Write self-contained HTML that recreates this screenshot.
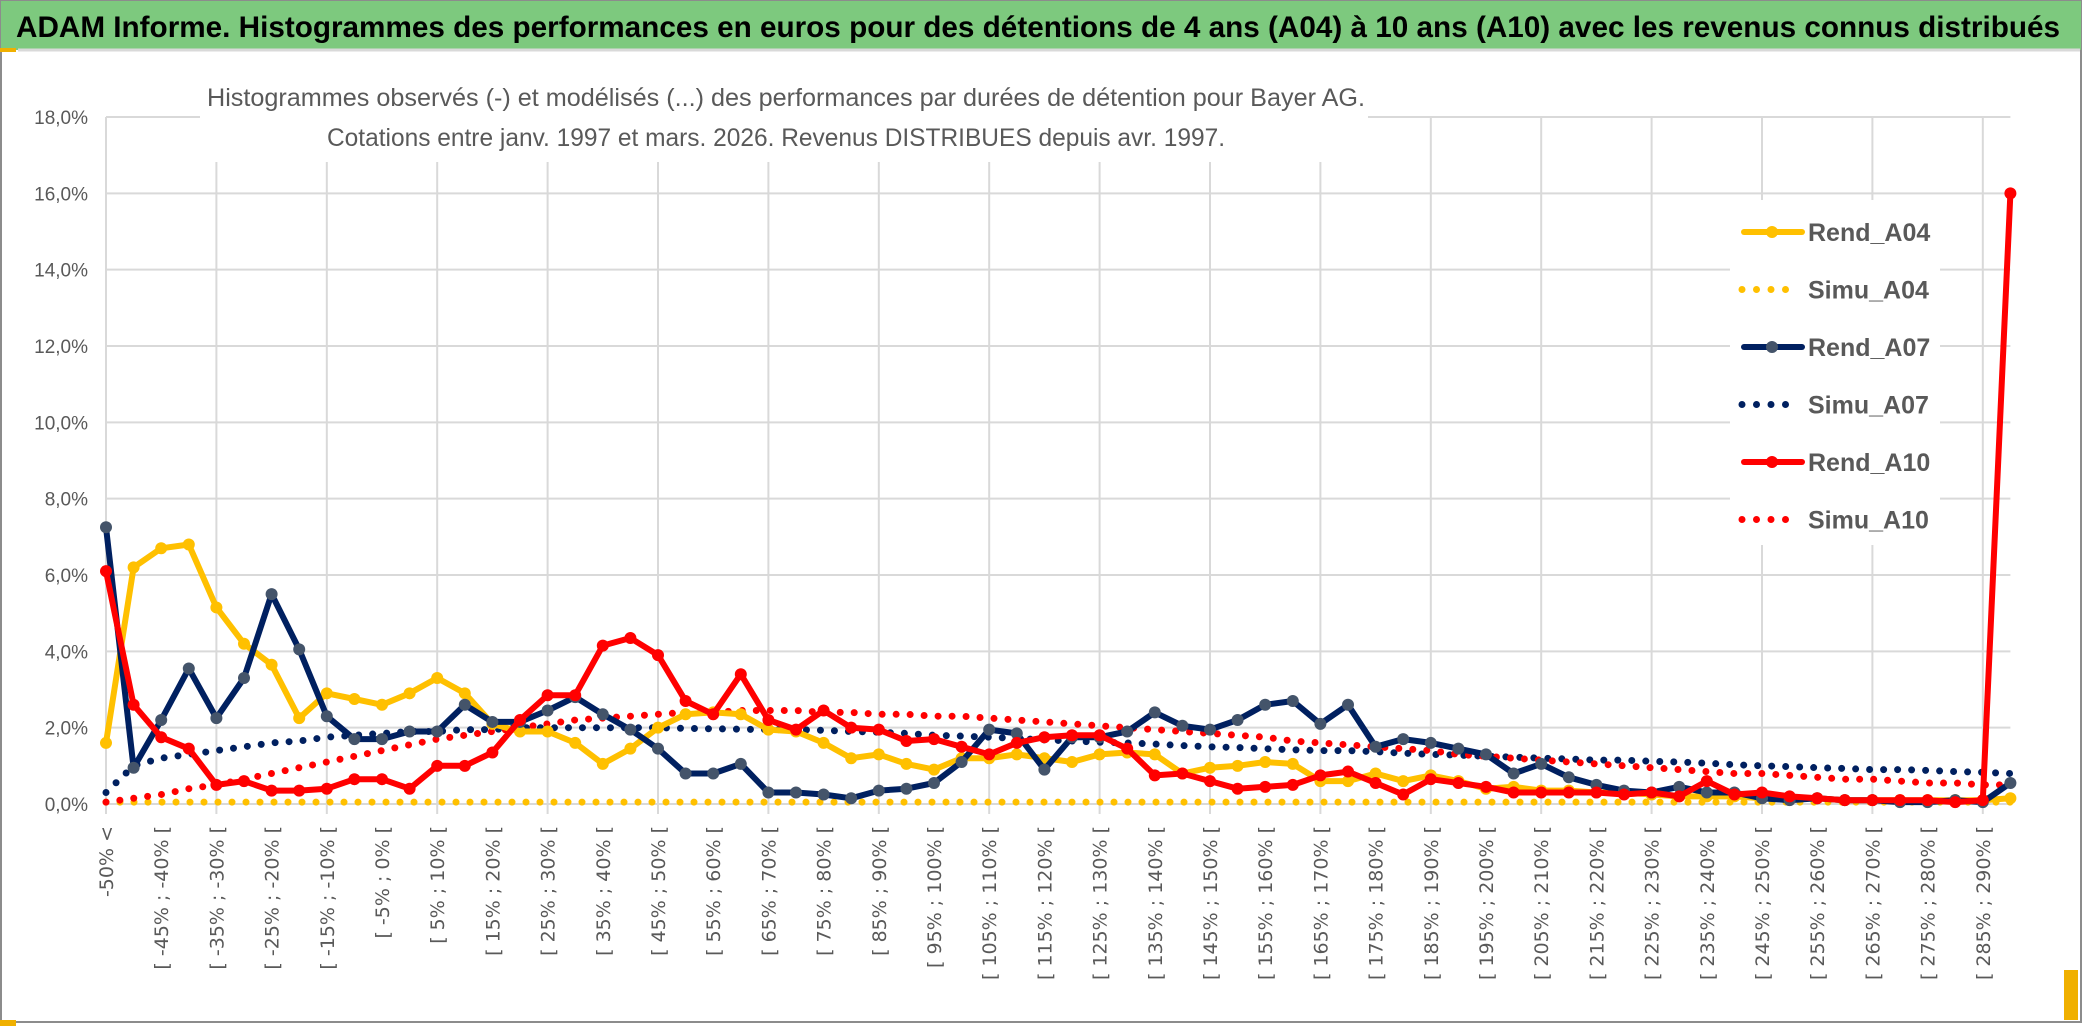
<!DOCTYPE html>
<html><head><meta charset="utf-8"><style>
html,body{margin:0;padding:0;background:#fff;}
svg{display:block;font-family:"Liberation Sans Narrow","Liberation Sans",sans-serif;}
</style></head><body>
<svg id="chart" width="2086" height="1031" viewBox="0 0 2086 1031" xmlns="http://www.w3.org/2000/svg">
<rect x="0" y="0" width="2086" height="1031" fill="#fff"/>
<rect x="1" y="1" width="2080" height="1021" fill="#fff" stroke="#8c8c8c" stroke-width="2"/>
<rect x="1" y="1" width="2080" height="49" fill="#7dc97e"/>
<line x1="18" y1="50" x2="2080" y2="50" stroke="#d9d9d9" stroke-width="3"/>
<rect x="0" y="48" width="16" height="4" fill="#f0b000"/>
<rect x="0" y="1020" width="16" height="6" fill="#f0b000"/>
<rect x="2064" y="970" width="14" height="50" fill="#f0b000"/>
<text x="16" y="37" font-size="30" font-weight="bold" fill="#000" textLength="2044" lengthAdjust="spacingAndGlyphs">ADAM Informe. Histogrammes des performances en euros pour des détentions de 4 ans (A04) à 10 ans (A10) avec les revenus connus distribués</text>
<g id="grid"></g>
<g id="yticks"></g>
<g id="xticks"></g>
<rect x="200" y="70" width="1168" height="92" fill="#fff"/>
<text x="786" y="106" text-anchor="middle" font-size="25" fill="#595959" textLength="1158" lengthAdjust="spacingAndGlyphs">Histogrammes observés (-) et modélisés (...) des performances par durées de détention pour Bayer AG.</text>
<text x="776" y="146" text-anchor="middle" font-size="25" fill="#595959" textLength="898" lengthAdjust="spacingAndGlyphs">Cotations entre janv. 1997 et mars. 2026. Revenus DISTRIBUES depuis avr. 1997.</text>
<g id="series"></g>
<g id="legend"></g>
</svg>
<script>
const categories = [];
categories.push('-50% <');
for (let v = -50; v < 295; v += 5) categories.push('[ ' + v + '% ; ' + (v + 5) + '% [');
const yTicks = [0, 2, 4, 6, 8, 10, 12, 14, 16, 18];
const yTickLabels = ['0,0%','2,0%','4,0%','6,0%','8,0%','10,0%','12,0%','14,0%','16,0%','18,0%'];
const rendA04 = [1.6,6.2,6.7,6.8,5.15,4.2,3.65,2.25,2.9,2.75,2.6,2.9,3.3,2.9,2.1,1.9,1.9,1.6,1.05,1.45,2.0,2.35,2.4,2.35,1.95,1.9,1.6,1.2,1.3,1.05,0.9,1.2,1.2,1.3,1.2,1.1,1.3,1.35,1.3,0.8,0.95,1.0,1.1,1.05,0.6,0.6,0.8,0.6,0.75,0.6,0.4,0.45,0.35,0.35,0.3,0.3,0.25,0.2,0.2,0.2,0.15,0.15,0.15,0.1,0.1,0.1,0.1,0.1,0.1,0.15];
const simuA04 = [0.05,0.05,0.05,0.05,0.05,0.05,0.05,0.05,0.05,0.05,0.05,0.05,0.05,0.05,0.05,0.05,0.05,0.05,0.05,0.05,0.05,0.05,0.05,0.05,0.05,0.05,0.05,0.05,0.05,0.05,0.05,0.05,0.05,0.05,0.05,0.05,0.05,0.05,0.05,0.05,0.05,0.05,0.05,0.05,0.05,0.05,0.05,0.05,0.05,0.05,0.05,0.05,0.05,0.05,0.05,0.05,0.05,0.05,0.05,0.05,0.05,0.05,0.05,0.05,0.05,0.05,0.05,0.05,0.05,0.05];
const rendA07 = [7.25,0.95,2.2,3.55,2.25,3.3,5.5,4.05,2.3,1.7,1.7,1.9,1.9,2.6,2.15,2.15,2.45,2.8,2.35,1.95,1.45,0.8,0.8,1.05,0.3,0.3,0.25,0.15,0.35,0.4,0.55,1.1,1.95,1.85,0.9,1.75,1.75,1.9,2.4,2.05,1.95,2.2,2.6,2.7,2.1,2.6,1.5,1.7,1.6,1.45,1.3,0.8,1.05,0.7,0.5,0.35,0.3,0.45,0.3,0.3,0.15,0.1,0.15,0.1,0.1,0.05,0.05,0.1,0.05,0.55];
const simuA07 = [0.3,1.0,1.2,1.3,1.4,1.5,1.6,1.65,1.75,1.8,1.85,1.9,1.9,1.95,1.95,2.0,2.0,2.0,2.0,2.0,2.0,1.98,1.97,1.96,1.95,1.95,1.93,1.9,1.88,1.85,1.8,1.78,1.75,1.72,1.68,1.65,1.62,1.6,1.57,1.53,1.5,1.48,1.45,1.42,1.4,1.4,1.37,1.33,1.3,1.28,1.25,1.23,1.2,1.18,1.15,1.15,1.12,1.1,1.07,1.03,1.0,0.98,0.95,0.93,0.9,0.9,0.88,0.85,0.83,0.8];
const rendA10 = [6.1,2.6,1.75,1.45,0.5,0.6,0.35,0.35,0.4,0.65,0.65,0.4,1.0,1.0,1.35,2.2,2.85,2.85,4.15,4.35,3.9,2.7,2.35,3.4,2.2,1.95,2.45,2.0,1.95,1.65,1.7,1.5,1.3,1.6,1.75,1.8,1.8,1.45,0.75,0.8,0.6,0.4,0.45,0.5,0.75,0.85,0.55,0.25,0.65,0.55,0.45,0.3,0.3,0.3,0.3,0.25,0.3,0.2,0.6,0.25,0.3,0.2,0.15,0.1,0.1,0.1,0.1,0.05,0.1,16.0];
const simuA10 = [0.05,0.15,0.25,0.4,0.5,0.65,0.8,0.95,1.1,1.25,1.4,1.55,1.7,1.8,1.9,2.0,2.1,2.2,2.25,2.3,2.35,2.4,2.4,2.45,2.45,2.45,2.4,2.4,2.35,2.35,2.3,2.3,2.25,2.2,2.15,2.1,2.05,2.0,1.95,1.9,1.85,1.8,1.75,1.65,1.6,1.55,1.5,1.45,1.4,1.3,1.25,1.2,1.15,1.1,1.05,1.0,0.95,0.9,0.85,0.8,0.8,0.75,0.7,0.65,0.65,0.6,0.55,0.55,0.5,0.5];

const NS = 'http://www.w3.org/2000/svg';
const X0 = 106, STEP = 27.6, Y0 = 804, YTOP = 117, YMAX = 18;
function xs(i){ return X0 + i * STEP; }
function ys(v){ return Y0 - v / YMAX * (Y0 - YTOP); }
function mk(tag, attrs, parent){ const e = document.createElementNS(NS, tag); for (const k in attrs) e.setAttribute(k, attrs[k]); parent.appendChild(e); return e; }

const grid = document.getElementById('grid');
const xEnd = xs(categories.length - 1);
yTicks.forEach(function(t){
  const l = mk('line', {x1: X0, x2: xEnd, y1: ys(t), y2: ys(t), stroke: '#d9d9d9', 'stroke-width': 2}, grid);
  
  
});
for (let i = 0; i < categories.length; i += 4) {
  const l = mk('line', {x1: xs(i), x2: xs(i), y1: YTOP, y2: Y0 + 10, stroke: '#d9d9d9', 'stroke-width': 2}, grid);
  
  
}
const yt = document.getElementById('yticks');
yTicks.forEach(function(t, k){
  const e = mk('text', {x: 88, y: ys(t) + 7, 'text-anchor': 'end', 'font-size': 19, fill: '#595959'}, yt);
  e.textContent = yTickLabels[k];
  
  
});
const xt = document.getElementById('xticks');
categories.forEach(function(c, i){
  if (i % 2) return;
  const x = xs(i) + 7, y = 826;
  const e = mk('text', {x: x, y: y, 'text-anchor': 'end', 'font-size': 19, fill: '#595959', 'font-family': 'DejaVu Sans, Liberation Sans, sans-serif', transform: 'rotate(-90 ' + x + ' ' + y + ')'}, xt);
  e.textContent = c;
  
  
});

const sg = document.getElementById('series');
function pts(arr){ return arr.map(function(v, i){ return xs(i).toFixed(1) + ',' + ys(v).toFixed(1); }).join(' '); }
function dotted(arr, color, name){
  const p = mk('polyline', {points: pts(arr), fill: 'none', stroke: color, 'stroke-width': 7, 'stroke-linecap': 'round', 'stroke-dasharray': '0 14'}, sg);
  
  
}
function solid(arr, color, mcolor, name){
  const g = mk('g', {}, sg);
  
  
  const p = mk('polyline', {points: pts(arr), fill: 'none', stroke: color, 'stroke-width': 6, 'stroke-linejoin': 'round'}, g);
  
  
  arr.forEach(function(v, i){
    const c = mk('circle', {cx: xs(i), cy: ys(v), r: 6, fill: mcolor}, g);
    
    
  });
}
dotted(simuA04, '#ffc000', 'simu-a04-series');
dotted(simuA07, '#002060', 'simu-a07-series');
dotted(simuA10, '#ff0000', 'simu-a10-series');
solid(rendA04, '#ffc000', '#ffc000', 'rend-a04-series');
solid(rendA07, '#002060', '#44546a', 'rend-a07-series');
solid(rendA10, '#ff0000', '#ff0000', 'rend-a10-series');

const lg = document.getElementById('legend');
mk('rect', {x: 1730, y: 200, width: 210, height: 345, fill: '#fff'}, lg);
const legendNames = ['Rend_A04','Simu_A04','Rend_A07','Simu_A07','Rend_A10','Simu_A10'];
const legendColors = ['#ffc000','#ffc000','#002060','#002060','#ff0000','#ff0000'];
const legendMarkers = ['#ffc000',null,'#44546a',null,'#ff0000',null];
legendNames.forEach(function(n, k){
  const y = 232 + k * 57.5;
  const g = mk('g', {}, lg);
  
  
  if (legendMarkers[k]) {
    mk('line', {x1: 1744, x2: 1802, y1: y, y2: y, stroke: legendColors[k], 'stroke-width': 6, 'stroke-linecap': 'round'}, g);
    mk('circle', {cx: 1772, cy: y, r: 6, fill: legendMarkers[k]}, g);
  } else {
    mk('line', {x1: 1742, x2: 1795, y1: y, y2: y, stroke: legendColors[k], 'stroke-width': 7, 'stroke-linecap': 'round', 'stroke-dasharray': '0 14.5'}, g);
  }
  const t = mk('text', {x: 1808, y: y + 9, 'font-size': 25, fill: '#595959', 'font-weight': 'bold'}, g);
  t.textContent = n;
});
</script>
</body></html>
